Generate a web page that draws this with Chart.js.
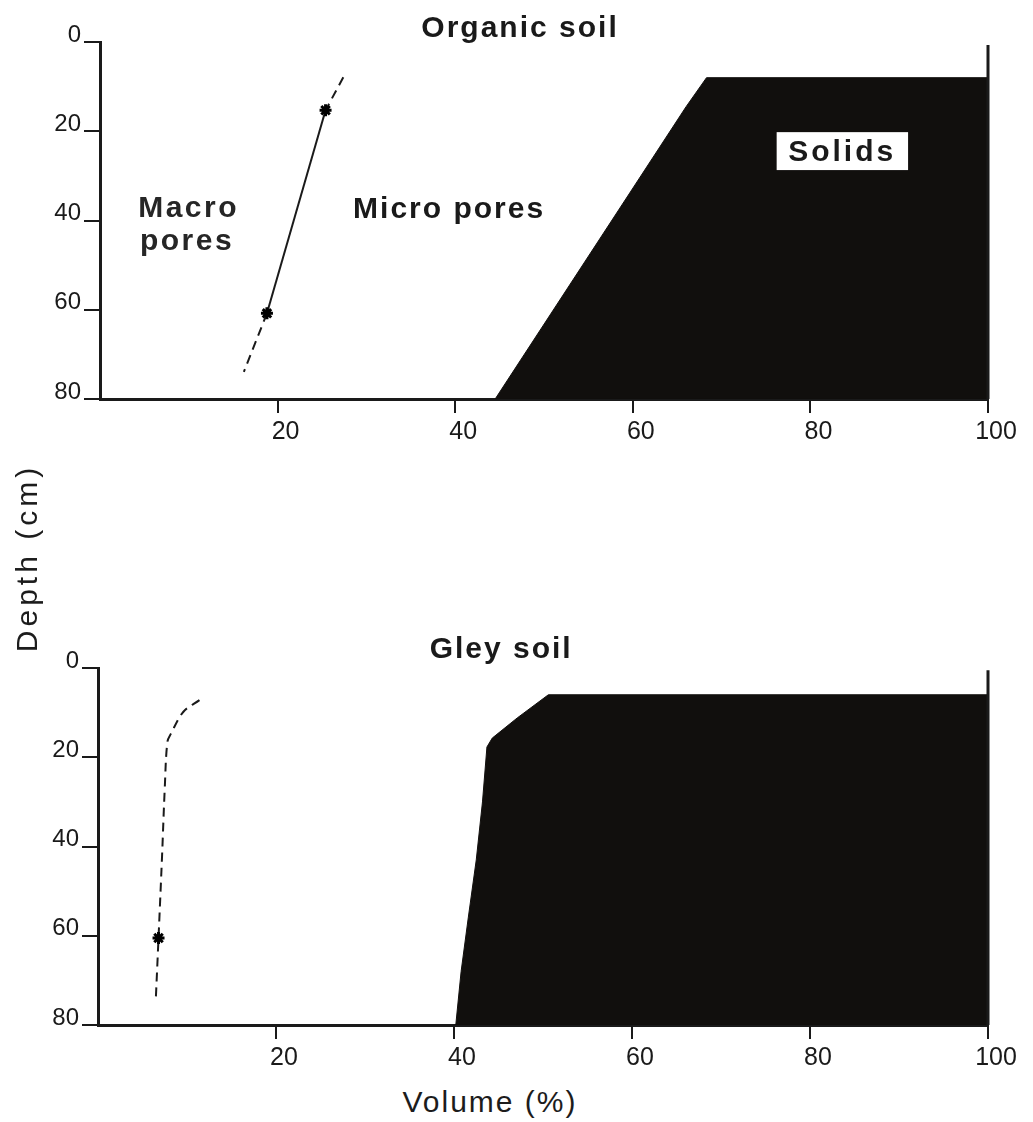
<!DOCTYPE html>
<html>
<head>
<meta charset="utf-8">
<title>Organic soil / Gley soil</title>
<script src="https://cdn.jsdelivr.net/npm/chart.js@4.4.1/dist/chart.umd.min.js"></script>
<style>
  body { margin: 0; background: #fff; }
  #page { position: relative; width: 1033px; height: 1122px; overflow: hidden;
          font-family: "Liberation Sans", Arial, sans-serif; color: #1c1c1c; }
  canvas { position: absolute; left: 0; }
  #organic-chart { top: 0; }
  #gley-chart { top: 600px; }
  .axis-title { position: absolute; font-size: 30px; line-height: 34px; text-align: center; white-space: nowrap; }
  #depth-title { width: 260px; left: -103px; top: 541px; transform: rotate(-90deg); letter-spacing: 4px; }
  #volume-title { width: 260px; left: 360px; top: 1085px; letter-spacing: 2px; }
</style>
</head>
<body>
<div id="page">
  <canvas id="organic-chart" width="1033" height="470"></canvas>
  <canvas id="gley-chart" width="1033" height="480"></canvas>
  <div class="axis-title" id="depth-title">Depth (cm)</div>
  <div class="axis-title" id="volume-title">Volume (%)</div>
</div>
<script>
/* values */
var xTickValues = [20, 40, 60, 80, 100];
var depthTickValues = [0, 20, 40, 60, 80];

// Organic soil
var organicSolidsVolume = [44.5, 66, 68.3, 100, 100, 44.5];
var organicSolidsDepth  = [80, 14.5, 8, 8, 80, 80];
var organicPoreVolume = [27.4, 25.4, 18.8, 16.2];
var organicPoreDepth  = [7.9, 15.3, 60.8, 73.9];
var organicMeasured   = [false, true, true, false];
var organicEdgeDepth  = [0.7, 80];

// Gley soil
var gleySolidsVolume = [40.2, 40.8, 41.6, 42.5, 43.2, 43.7, 44.3, 47.1, 50.6, 100, 100, 40.2];
var gleySolidsDepth  = [80, 68, 56, 43, 30, 17.7, 15.7, 11.2, 6, 6, 80, 80];
var gleyPoreVolume = [11.4, 9.6, 8.2, 7.8, 7.5, 7.2, 6.8, 6.5];
var gleyPoreDepth  = [7.2, 9.8, 14.7, 16.5, 27, 42, 60.5, 74];
var gleyMeasured   = [false, false, false, false, false, false, true, false];
var gleyEdgeDepth  = [0.5, 80];

var INK = '#1a1a1a';
var SOLID = '#110f0d';
var FONT = '"Liberation Sans", Arial, sans-serif';

function zip(xs, ys) {
    var out = [];
    for (var i = 0; i < xs.length; i++) out.push({x: xs[i], y: ys[i]});
    return out;
}

// text labels drawn inside the plot, placed with the chart's own scales
var figureText = {
    id: 'figureText',
    afterDatasetsDraw: function (chart, args, opts) {
        var ctx = chart.ctx, xs = chart.scales.x, ys = chart.scales.y;
        (opts.items || []).forEach(function (it) {
            ctx.save();
            if (it.box) {
                var bx0 = xs.getPixelForValue(it.box[0]), bx1 = xs.getPixelForValue(it.box[1]);
                var by0 = ys.getPixelForValue(it.box[2]), by1 = ys.getPixelForValue(it.box[3]);
                ctx.fillStyle = '#ffffff';
                ctx.fillRect(bx0, by0, bx1 - bx0, by1 - by0);
            }
            ctx.font = it.font;
            ctx.letterSpacing = it.spacing || '0px';
            ctx.textAlign = it.align || 'left';
            ctx.textBaseline = 'alphabetic';
            ctx.fillStyle = it.color || INK;
            ctx.fillText(it.text, xs.getPixelForValue(it.x), ys.getPixelForValue(it.d));
            ctx.restore();
        });
    }
};

function makeChart(canvasId, opt) {
    var measured = opt.measured;
    var ctx = document.getElementById(canvasId).getContext('2d');
    return new Chart(ctx, {
        type: 'scatter',
        data: {
            datasets: [
                {
                    label: 'boundary',
                    data: zip(opt.poreVolume, opt.poreDepth),
                    showLine: true,
                    borderColor: INK,
                    borderWidth: 2,
                    tension: opt.tension,
                    pointStyle: 'star',
                    pointRadius: measured.map(function (m) { return m ? 6 : 0; }),
                    pointBorderWidth: 3,
                    pointBorderColor: '#000',
                    pointBackgroundColor: '#000',
                    segment: {
                        borderDash: function (c) {
                            return (measured[c.p0DataIndex] && measured[c.p1DataIndex]) ? [] : [9, 6];
                        }
                    }
                },
                {
                    label: 'edge',
                    data: zip([100, 100], opt.edgeDepth),
                    showLine: true,
                    borderColor: INK,
                    borderWidth: 3,
                    pointRadius: 0,
                    clip: false
                },
                {
                    label: 'Solids',
                    data: zip(opt.solidsVolume, opt.solidsDepth),
                    showLine: true,
                    fill: 'shape',
                    backgroundColor: SOLID,
                    borderColor: SOLID,
                    borderWidth: 1,
                    pointRadius: 0
                }
            ]
        },
        options: {
            responsive: false,
            animation: false,
            events: [],
            layout: { padding: { top: opt.top, right: 45, left: 0, bottom: 0 } },
            plugins: {
                legend: { display: false },
                tooltip: { enabled: false },
                figureText: { items: opt.texts }
            },
            scales: {
                x: {
                    type: 'linear', min: 0, max: 100,
                    afterBuildTicks: function (s) { s.ticks = xTickValues.map(function (v) { return {value: v}; }); },
                    afterFit: function (s) { s.height = opt.xHeight; },
                    grid: { drawOnChartArea: false, drawTicks: true, tickLength: 14, lineWidth: 2, tickWidth: 2, tickColor: INK },
                    border: { display: true, color: INK, width: 3 },
                    ticks: { color: INK, font: { family: FONT, size: 25 }, padding: 4, labelOffset: 8, maxRotation: 0, autoSkip: false }
                },
                y: {
                    type: 'linear', min: 0, max: 80, reverse: true,
                    afterBuildTicks: function (s) { s.ticks = depthTickValues.map(function (v) { return {value: v}; }); },
                    afterFit: function (s) { s.width = opt.yWidth; },
                    grid: { drawOnChartArea: false, drawTicks: true, tickLength: 16, lineWidth: 2, tickWidth: 2, tickColor: INK },
                    border: { display: true, color: INK, width: 3 },
                    ticks: { color: INK, font: { family: FONT, size: 24 }, padding: 3, labelOffset: -7, autoSkip: false }
                }
            }
        },
        plugins: [figureText]
    });
}

var boldFont = 'bold 30px ' + FONT;

makeChart('organic-chart', {
    top: 42, yWidth: 100, xHeight: 71, tension: 0,
    solidsVolume: organicSolidsVolume, solidsDepth: organicSolidsDepth,
    poreVolume: organicPoreVolume, poreDepth: organicPoreDepth,
    measured: organicMeasured, edgeDepth: organicEdgeDepth,
    texts: [
        { text: 'Organic soil', x: 47.3, d: -1.1, align: 'center', font: boldFont, spacing: '2px' },
        { text: 'Macro', x: 4.3, d: 39.2, font: boldFont, spacing: '2.5px', color: '#262626' },
        { text: 'pores', x: 4.5, d: 46.6, font: boldFont, spacing: '2.5px', color: '#262626' },
        { text: 'Micro pores', x: 28.5, d: 39.4, font: boldFont, spacing: '2px' },
        { text: 'Solids', x: 77.5, d: 26.7, font: boldFont, spacing: '3px', box: [76.2, 91.0, 20.2, 28.7] }
    ]
});

makeChart('gley-chart', {
    top: 68, yWidth: 98, xHeight: 55, tension: 0.35,
    solidsVolume: gleySolidsVolume, solidsDepth: gleySolidsDepth,
    poreVolume: gleyPoreVolume, poreDepth: gleyPoreDepth,
    measured: gleyMeasured, edgeDepth: gleyEdgeDepth,
    texts: [
        { text: 'Gley soil', x: 45.3, d: -2.2, align: 'center', font: boldFont, spacing: '2px' }
    ]
});
</script>
</body>
</html>
